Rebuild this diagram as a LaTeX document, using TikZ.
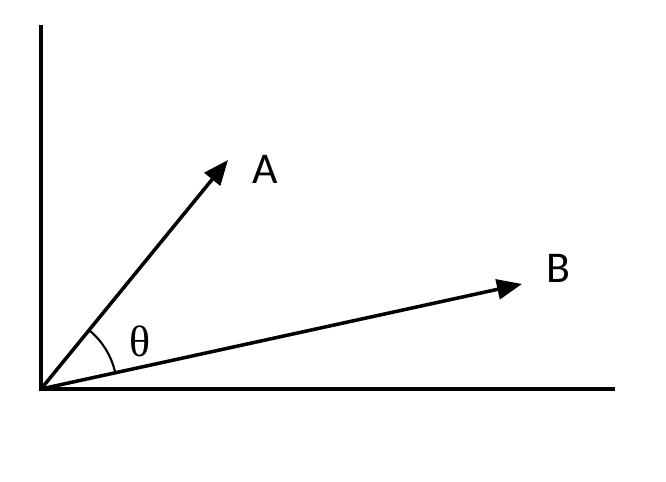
\documentclass[tikz,border=0pt]{standalone}
\usepackage{fontspec}
\setmainfont{Liberation Serif}
\newfontfamily\labelfont{Carlito}
\usetikzlibrary{arrows.meta,positioning}

\begin{document}
\begin{tikzpicture}[
	%	style def
    x=0.02cm, y=0.02cm,
    axis line/.style={line width=2pt},
    vector line/.style={line width=2pt,-{Triangle[length=0.5cm,width=0.4cm]}},
    vector label/.style={font=\labelfont\fontsize{25}{25}\selectfont},
    every node/.style={color=black}
    ]
	\useasboundingbox (0,0) rectangle (666,482);

	% axes
	\coordinate (O) at (41,93);
	\coordinate (ytop) at (41,457);
	\coordinate (xend) at (615,93);
	\draw[axis line] (ytop) -- (O) -- (xend);

	% the two vectors
	\coordinate (Atip) at (228,322);
	\coordinate (Btip) at (522,198);
	\draw[vector line] (O) -- (Atip);
	\draw[vector line] (O) -- (Btip);
	\node[vector label] (A) at (265,313) {A};
	\node[vector label] (B) at (558,214) {B};

	% angle between them
	\draw[line width=1.2pt] (O) ++(12.3:1.52cm) arc[start angle=12.3, end angle=50.7, radius=1.52cm];
	\node[font=\fontsize{25}{25}\selectfont] (theta) at (140,141) {θ};
\end{tikzpicture}
\end{document}
